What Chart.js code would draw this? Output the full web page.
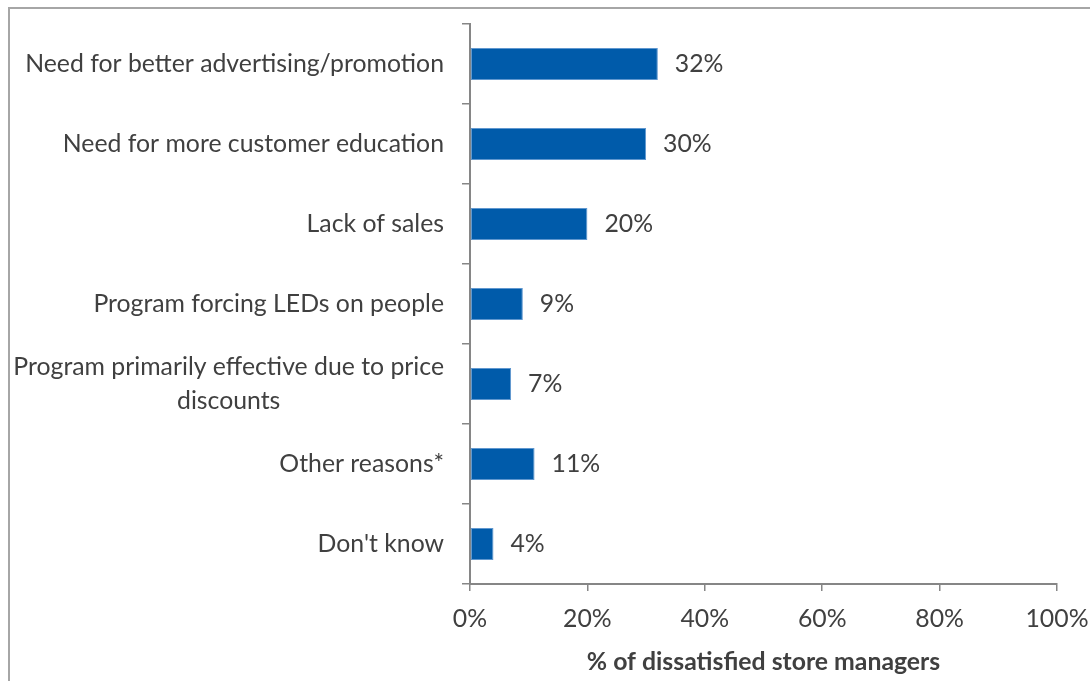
<!DOCTYPE html>
<html>
<head>
<meta charset="utf-8">
<script src="https://cdn.jsdelivr.net/npm/chart.js@4"></script>
<style>
  html, body { margin: 0; padding: 0; background: #fff; }
  #wrap { position: relative; width: 1090px; height: 681px; overflow: hidden; }
  #frame {
    position: absolute; left: 8px; top: 7px; width: 1200px; height: 800px;
    border-left: 2px solid #a6a6a6; border-top: 2px solid #a6a6a6;
  }
  #chart { position: absolute; left: 0; top: 0; }
</style>
</head>
<body>
<div id="wrap">
  <div id="frame"></div>
  <canvas id="chart" width="1090" height="681"></canvas>
</div>
<script>
// ---- data ----
const categories = [
  'Need for better advertising/promotion',
  'Need for more customer education',
  'Lack of sales',
  'Program forcing LEDs on people',
  ['Program primarily effective due to price', 'discounts'],
  'Other reasons*',
  "Don't know"
];
const shares = [32, 30, 20, 9, 7, 11, 4];
const xTicks = [0, 20, 40, 60, 80, 100];

const FONT = 'Lato, "Open Sans", sans-serif';
const SIZE = 24.8;
const TEXT = '#404040';
const AXIS = '#868686';

// category names drawn beside the axis; wrapped lines are centred on each other
const categoryLabels = {
  id: 'categoryLabels',
  afterDraw(chart) {
    const { ctx, scales: { y } } = chart;
    const right = y.right - 26;
    const lineH = 34;
    ctx.save();
    ctx.font = SIZE + 'px ' + FONT;
    ctx.fillStyle = TEXT;
    ctx.textBaseline = 'middle';
    ctx.textAlign = 'center';
    categories.forEach((label, i) => {
      const lines = Array.isArray(label) ? label : [label];
      const block = Math.max(...lines.map(l => ctx.measureText(l).width));
      const cy = y.getPixelForValue(i);
      lines.forEach((line, j) => {
        ctx.fillText(line, right - block / 2, cy + (j - (lines.length - 1) / 2) * lineH);
      });
    });
    ctx.restore();
  }
};

// percentage written after the end of each bar
const valueLabels = {
  id: 'valueLabels',
  afterDatasetsDraw(chart) {
    const { ctx } = chart;
    const meta = chart.getDatasetMeta(0);
    ctx.save();
    ctx.font = SIZE + 'px ' + FONT;
    ctx.fillStyle = TEXT;
    ctx.textAlign = 'left';
    ctx.textBaseline = 'middle';
    meta.data.forEach((bar, i) => {
      ctx.fillText(shares[i] + '%', bar.x + 17, bar.y);
    });
    ctx.restore();
  }
};

new Chart(document.getElementById('chart'), {
  type: 'bar',
  data: {
    labels: categories,
    datasets: [{
      data: shares,
      backgroundColor: '#005baa',
      borderColor: '#5f97cf',
      borderWidth: 1,
      borderSkipped: false,
      categoryPercentage: 1,
      barPercentage: 0.4
    }]
  },
  options: {
    indexAxis: 'y',
    responsive: false,
    animation: false,
    events: [],
    layout: { padding: { top: 24, right: 33, left: 0, bottom: 0 } },
    plugins: { legend: { display: false }, tooltip: { enabled: false } },
    scales: {
      y: {
        afterFit: s => { s.width = 470; s.paddingTop = 0; s.paddingBottom = 0; },
        ticks: { display: false },
        grid: { offset: true, drawOnChartArea: false, tickLength: 8, color: AXIS, lineWidth: 1.5 },
        border: { color: AXIS, width: 2 }
      },
      x: {
        min: 0,
        max: 100,
        // end labels may hang past the plot edge; keep the plot width fixed
        afterFit: s => { s.height = 97; s.paddingLeft = 0; s.paddingRight = 0; },
        afterBuildTicks: s => { s.ticks = xTicks.map(v => ({ value: v })); },
        ticks: {
          padding: 13,
          color: TEXT,
          font: { family: FONT, size: SIZE },
          callback: v => v + '%'
        },
        grid: { drawOnChartArea: false, tickLength: 7, color: AXIS, lineWidth: 1.5 },
        border: { color: AXIS, width: 2 },
        title: {
          display: true,
          text: '% of dissatisfied store managers',
          color: TEXT,
          font: { family: FONT, size: SIZE, weight: 'bold' },
          padding: { top: 0, bottom: 4 }
        }
      }
    }
  },
  plugins: [categoryLabels, valueLabels]
});
</script>
</body>
</html>
